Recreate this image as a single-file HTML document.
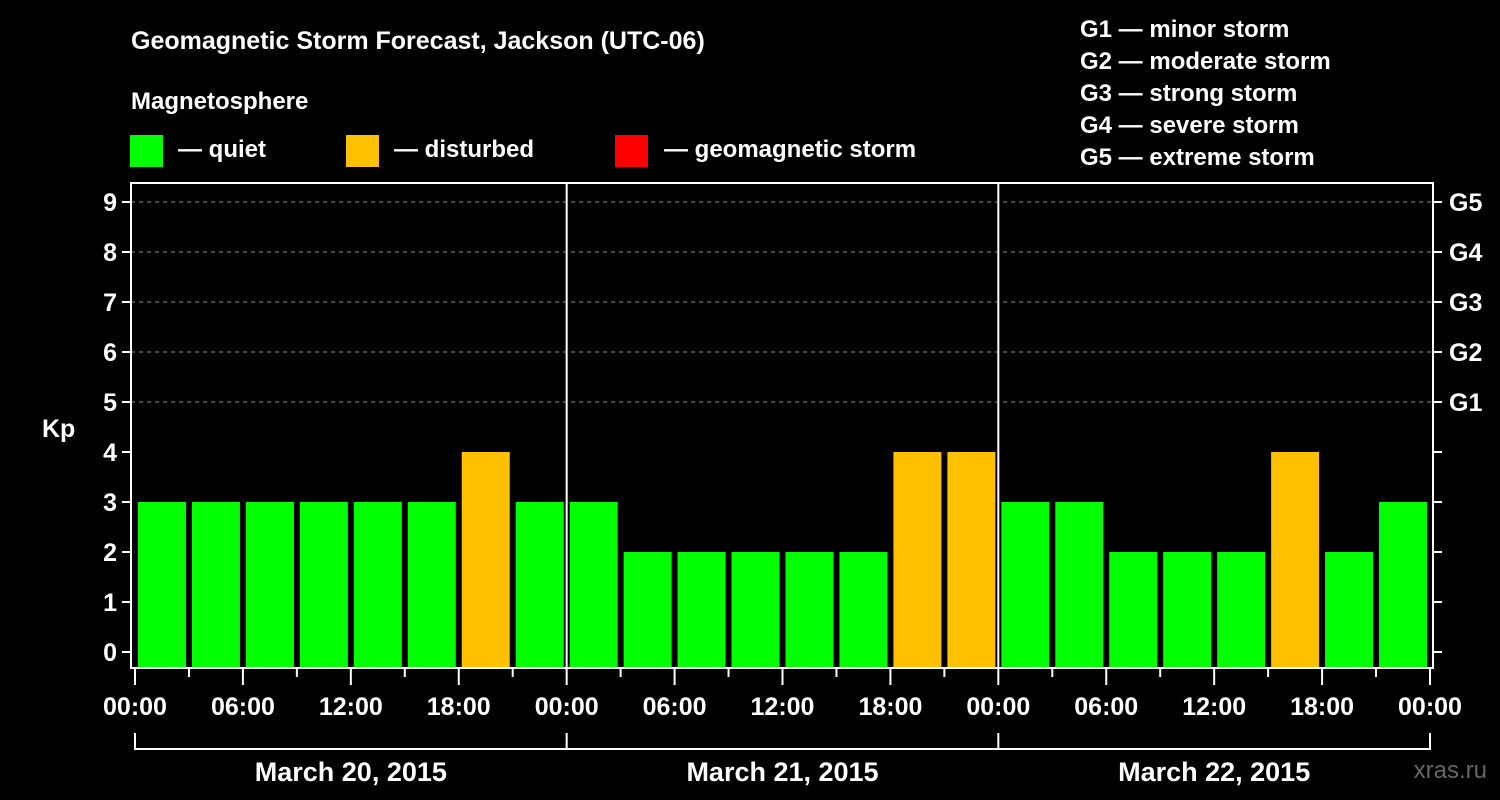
<!DOCTYPE html>
<html><head><meta charset="utf-8"><style>
html,body{margin:0;padding:0;background:#000;}
svg{display:block;font-family:"Liberation Sans",Arial,sans-serif;font-weight:bold;}
</style></head><body>
<svg id="chart" width="1500" height="800" viewBox="0 0 1500 800">
<rect width="1500" height="800" fill="#000"/>
<text x="131" y="49" font-size="25" fill="#fff">Geomagnetic Storm Forecast, Jackson (UTC-06)</text>
<text x="131" y="109" font-size="24" fill="#fff">Magnetosphere</text>
<g><rect x="130" y="135" width="33" height="32" fill="#00ff00"/><text x="178" y="157" font-size="24" fill="#fff">— quiet</text></g>
<g><rect x="346" y="135" width="33" height="32" fill="#ffc000"/><text x="394" y="157" font-size="24" fill="#fff">— disturbed</text></g>
<g><rect x="615" y="135" width="33" height="32" fill="#ff0000"/><text x="664" y="157" font-size="24" fill="#fff">— geomagnetic storm</text></g>
<g font-size="24" fill="#fff">
<text x="1080" y="37">G1 — minor storm</text>
<text x="1080" y="69">G2 — moderate storm</text>
<text x="1080" y="101">G3 — strong storm</text>
<text x="1080" y="133">G4 — severe storm</text>
<text x="1080" y="165">G5 — extreme storm</text>
</g>
<text x="42" y="437" font-size="25" fill="#fff">Kp</text>
<text x="1487" y="778" font-size="24" fill="#666" font-weight="normal" text-anchor="end">xras.ru</text>
<g id="grid"></g><g id="bars"></g><g id="axes"></g>
</svg>
<script>
const kpValues = [3,3,3,3,3,3,4,3, 3,2,2,2,2,2,4,4, 3,3,2,2,2,4,2,3];
const dayLabels = ["March 20, 2015","March 21, 2015","March 22, 2015"];
const timeLabels = ["00:00","06:00","12:00","18:00"];
const gLabels = ["G1","G2","G3","G4","G5"];
const yTicks = [0,1,2,3,4,5,6,7,8,9];
const NS="http://www.w3.org/2000/svg";
const X0=135, PXH=1295/72, PLOT_L=131, PLOT_R=1433, PLOT_T=183, PLOT_B=668;
function xScale(h){return X0+h*PXH;}
function yScale(v){return 652-50*v;}
function mk(tag,attrs,parent){const e=document.createElementNS(NS,tag);for(const k in attrs)e.setAttribute(k,attrs[k]);parent.appendChild(e);return e;}
const grid=document.getElementById('grid'),bars=document.getElementById('bars'),axes=document.getElementById('axes');
yTicks.forEach(v=>{
  if(v>=5){const l=mk('line',{x1:PLOT_L,x2:PLOT_R,y1:yScale(v),y2:yScale(v),stroke:'#888','stroke-width':1,'stroke-dasharray':'4,4'},grid);
  
  }
  const t=mk('line',{x1:PLOT_L-9,x2:PLOT_L,y1:yScale(v),y2:yScale(v),stroke:'#fff','stroke-width':2},axes);
  
  
  const t2=mk('line',{x1:PLOT_R,x2:PLOT_R+9,y1:yScale(v),y2:yScale(v),stroke:'#fff','stroke-width':2},axes);
  
  
  const tx=mk('text',{x:117,y:yScale(v)+9,'text-anchor':'end','font-size':25,fill:'#fff'},axes);
  tx.textContent=v;
  
  
});
gLabels.forEach((g,i)=>{
  const tx=mk('text',{x:1449,y:yScale(5+i)+9,'font-size':25,fill:'#fff'},axes);
  tx.textContent=g;
  
  
});
kpValues.forEach((v,i)=>{
  const col=v>=5?'#ff0000':(v>=4?'#ffc000':'#00ff00');
  const r=mk('rect',{x:xScale(i*3)+3,y:yScale(v),width:48,height:PLOT_B-yScale(v),fill:col},bars);
  
  
});
const frame=mk('rect',{x:PLOT_L,y:PLOT_T,width:PLOT_R-PLOT_L,height:PLOT_B-PLOT_T,fill:'none',stroke:'#fff','stroke-width':2},axes);


for(let d=1;d<dayLabels.length;d++){
  const l=mk('line',{x1:xScale(d*24),x2:xScale(d*24),y1:PLOT_T,y2:PLOT_B,stroke:'#fff','stroke-width':2},axes);
  
  
}
for(let h=0;h<=72;h+=3){
  const major=h%6===0;
  const t=mk('line',{x1:xScale(h),x2:xScale(h),y1:PLOT_B,y2:PLOT_B+(major?17:9),stroke:'#fff','stroke-width':2},axes);
  
  
  if(major){
    const tx=mk('text',{x:xScale(h),y:715,'text-anchor':'middle','font-size':25,fill:'#fff'},axes);
    tx.textContent=timeLabels[(h/6)%4];
    
    
  }
}
const br=mk('line',{x1:xScale(0),x2:xScale(72),y1:749,y2:749,stroke:'#fff','stroke-width':2},axes);


for(let d=0;d<=dayLabels.length;d++){
  const v=mk('line',{x1:xScale(d*24),x2:xScale(d*24),y1:733,y2:750,stroke:'#fff','stroke-width':2},axes);
  
  
}
dayLabels.forEach((s,d)=>{
  const tx=mk('text',{x:xScale(d*24+12),y:781,'text-anchor':'middle','font-size':27,fill:'#fff'},axes);
  tx.textContent=s;
  
  
});
</script>
</body></html>
